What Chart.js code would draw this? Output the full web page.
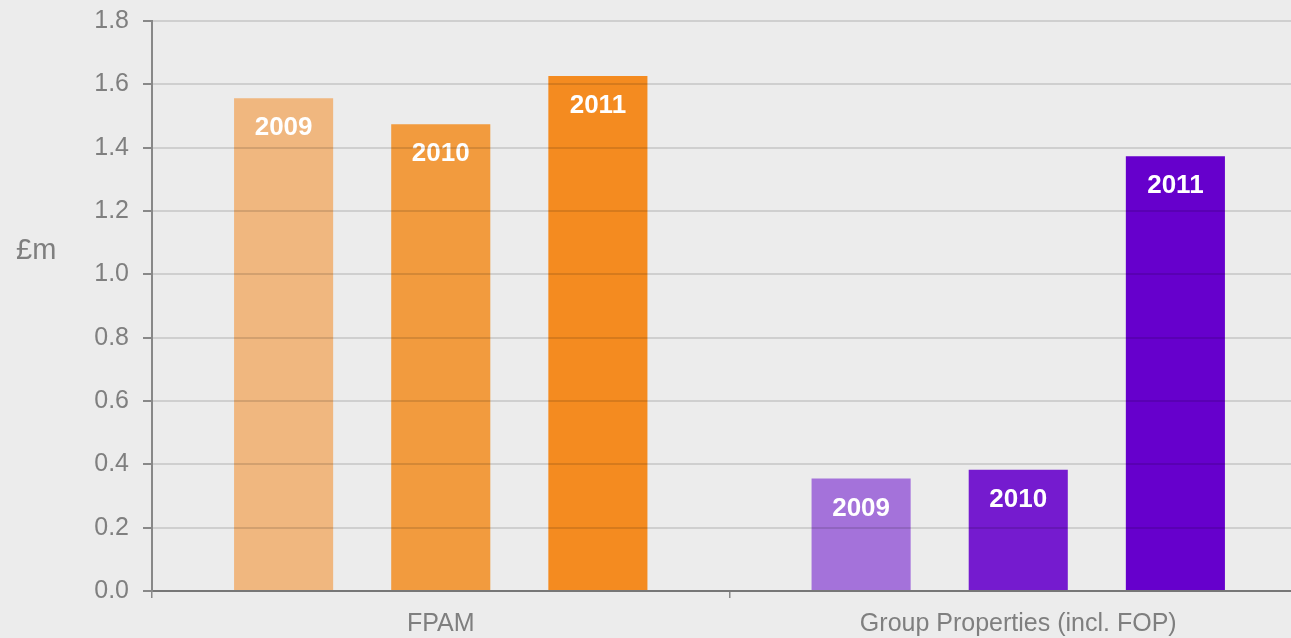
<!DOCTYPE html>
<html>
<head>
<meta charset="utf-8">
<script src="https://cdn.jsdelivr.net/npm/chart.js@4/dist/chart.umd.min.js"></script>
<style>
html,body{margin:0;padding:0;background:#ececec;overflow:hidden;}
#wrap{position:relative;width:1307px;height:638px;}
</style>
</head>
<body>
<div id="wrap"><canvas id="c" width="1307" height="638"></canvas></div>
<script>
const categories = ["FPAM", "Group Properties (incl. FOP)"];
const years = ["2009", "2010", "2011"];
const values2009 = [1.556, 0.355];
const values2010 = [1.474, 0.383];
const values2011 = [1.626, 1.373];
const colors2009 = ["#F0B77F", "#A472DA"];
const colors2010 = ["#F29B3E", "#751BCF"];
const colors2011 = ["#F48B20", "#6600CC"];
const yTicks = [0, 0.2, 0.4, 0.6, 0.8, 1.0, 1.2, 1.4, 1.6, 1.8];
const yTitle = "£m";

const FONT = "'Liberation Sans', Arial, sans-serif";
const TXT = "#7f7f7f";

const barLabels = {
  id: 'barLabels',
  afterDatasetsDraw(chart) {
    const ctx = chart.ctx;
    ctx.save();
    ctx.fillStyle = "#ffffff";
    ctx.font = "bold 26px " + FONT;
    ctx.textAlign = "center";
    ctx.textBaseline = "middle";
    chart.data.datasets.forEach((ds, i) => {
      chart.getDatasetMeta(i).data.forEach(el => {
        ctx.fillText(ds.label, el.x, el.y + 30);
      });
    });
    ctx.restore();
  }
};
const axisTitle = {
  id: 'axisTitle',
  afterDraw(chart) {
    const ctx = chart.ctx;
    ctx.save();
    ctx.fillStyle = TXT;
    ctx.font = "29px " + FONT;
    ctx.textAlign = "left";
    ctx.textBaseline = "middle";
    ctx.fillText(yTitle, 16, 251);
    ctx.restore();
  }
};

new Chart(document.getElementById('c'), {
  type: 'bar',
  data: {
    labels: categories,
    datasets: [
      { label: years[0], data: values2009, backgroundColor: colors2009 },
      { label: years[1], data: values2010, backgroundColor: colors2010 },
      { label: years[2], data: values2011, backgroundColor: colors2011 }
    ]
  },
  options: {
    responsive: false,
    animation: false,
    events: [],
    categoryPercentage: 0.8163,
    barPercentage: 0.6306,
    layout: { padding: { top: 21, left: 0, right: 0, bottom: 0 } },
    plugins: { legend: { display: false }, tooltip: { enabled: false } },
    scales: {
      x: {
        offset: true,
        grid: { offset: true, drawOnChartArea: false, drawTicks: true, tickLength: 7, color: "#888888", lineWidth: 1.5 },
        border: { color: "#888888", width: 2 },
        ticks: { color: TXT, font: { family: FONT, size: 25 }, padding: 11 },
        afterFit(s) { s.height = 47; s.paddingLeft = 0; s.paddingRight = 0; }
      },
      y: {
        min: 0, max: 1.8,
        afterBuildTicks(s) { s.ticks = yTicks.map(v => ({ value: v })); },
        grid: { z: 1, color: "rgba(0,0,0,0.12)", lineWidth: 2, drawTicks: false },
        border: { z: 1, color: "#888888", width: 2 },
        ticks: { color: TXT, font: { family: FONT, size: 25 }, padding: 23, callback: v => Number(v).toFixed(1) },
        afterFit(s) { s.width = 152; s.paddingTop = 0; s.paddingBottom = 0; }
      }
    }
  },
  plugins: [barLabels, axisTitle,
    {
      id: 'yTickMarks',
      afterDraw(chart) {
        const ctx = chart.ctx, y = chart.scales.y, x = chart.scales.x;
        ctx.save();
        ctx.strokeStyle = "#888888";
        ctx.lineWidth = 2;
        yTicks.forEach(v => {
          const py = Math.round(y.getPixelForValue(v));
          ctx.beginPath(); ctx.moveTo(x.left - 9, py); ctx.lineTo(x.left, py); ctx.stroke();
        });
        ctx.restore();
      }
    }
  ]
});
</script>
</body>
</html>
